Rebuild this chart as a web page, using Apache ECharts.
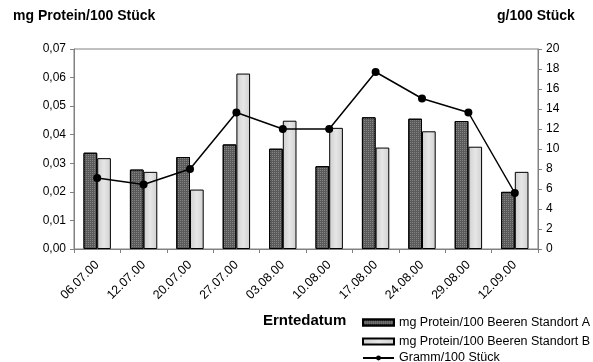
<!DOCTYPE html>
<html><head><meta charset="utf-8">
<script src="https://cdn.jsdelivr.net/npm/echarts@6/dist/echarts.min.js"></script>
<style>html,body{margin:0;padding:0;background:#fff}#c{width:593px;height:362px}</style>
</head><body><div id="c"></div>
<script>
const categories = ['06.07.00','12.07.00','20.07.00','27.07.00','03.08.00','10.08.00','17.08.00','24.08.00','29.08.00','12.09.00'];
const standortA = [0.0337,0.0278,0.0322,0.0366,0.0351,0.0290,0.0461,0.0456,0.0448,0.0200];
const standortB = [0.0318,0.0270,0.0208,0.0614,0.0449,0.0424,0.0355,0.0412,0.0358,0.0270];
const gramm = [7.1,6.45,8.0,13.65,12.0,12.0,17.7,15.05,13.65,5.6];
const leftTicks = ['0,00','0,01','0,02','0,03','0,04','0,05','0,06','0,07'];
const nameA = 'mg Protein/100 Beeren Standort A';
const nameB = 'mg Protein/100 Beeren Standort B';
const nameL = 'Gramm/100 Stück';

const chart = echarts.init(document.getElementById('c'), null, {renderer:'canvas'});
const font = 'Liberation Sans, Arial, sans-serif';
const axisGrey = '#808080';
function leg(name, top, icon, lh){
  const d = icon ? {name:name, icon:icon} : {name:name};
  return {orient:'vertical',left:362,top:top,padding:0,itemWidth:31,itemHeight:6,
    textStyle:{fontSize:12.5,lineHeight:lh,color:'#000',fontFamily:font},data:[d]};
}
chart.setOption({
  animation:false,
  textStyle:{fontFamily:font},
  grid:{left:74,right:55,top:49,bottom:113,show:true,borderColor:axisGrey,borderWidth:1},
  graphic:[
    {type:'text',left:13,top:9,style:{text:'mg Protein/100 Stück',font:'bold 14px '+font,fill:'#000'}},
    {type:'text',left:497,top:9,style:{text:'g/100 Stück',font:'bold 14px '+font,fill:'#000'}},
    {type:'text',left:263,top:313,style:{text:'Erntedatum',font:'bold 15px '+font,fill:'#000'}}
  ],
  legend:[leg(nameA,316,'rect',12), leg(nameB,335,'rect',12), leg(nameL,351.5,null,11)],
  xAxis:{
    type:'category',data:categories,
    axisLine:{lineStyle:{color:axisGrey}},
    axisTick:{show:true,alignWithLabel:false,length:4,lineStyle:{color:axisGrey}},
    axisLabel:{rotate:45,color:'#000',fontSize:12.5,margin:14,interval:0}
  },
  yAxis:[
    {type:'value',min:0,max:0.07,interval:0.01,
     axisLine:{show:true,lineStyle:{color:axisGrey}},
     axisTick:{show:true,length:4,lineStyle:{color:axisGrey}},
     splitLine:{show:false},
     axisLabel:{color:'#000',fontSize:12,margin:8,formatter:(v)=>leftTicks[Math.round(v*100)]}},
    {type:'value',min:0,max:20,interval:2,position:'right',
     axisLine:{show:true,lineStyle:{color:axisGrey}},
     axisTick:{show:true,length:4,lineStyle:{color:axisGrey}},
     splitLine:{show:false},
     axisLabel:{color:'#000',fontSize:12,margin:8}}
  ],
  series:[
    {name:nameA,type:'bar',data:standortA,barGap:'0%',barCategoryGap:'41%',
     itemStyle:{color:'#5a5a5a',borderColor:'#000',borderWidth:1,
       decal:{symbol:'rect',symbolSize:1,dashArrayX:[1,1],dashArrayY:[1,1],color:'rgba(150,150,150,0.7)',rotation:0}}},
    {name:nameB,type:'bar',data:standortB,
     itemStyle:{color:new echarts.graphic.LinearGradient(0,0,1,0,[{offset:0,color:'#cfcfcf'},{offset:0.5,color:'#e6e6e6'},{offset:1,color:'#d0d0d0'}]),borderColor:'#000',borderWidth:1}},
    {name:nameL,type:'line',yAxisIndex:1,data:gramm,symbol:'circle',symbolSize:8,
     lineStyle:{color:'#000',width:1.5},itemStyle:{color:'#000'},z:5}
  ]
});
</script></body></html>
